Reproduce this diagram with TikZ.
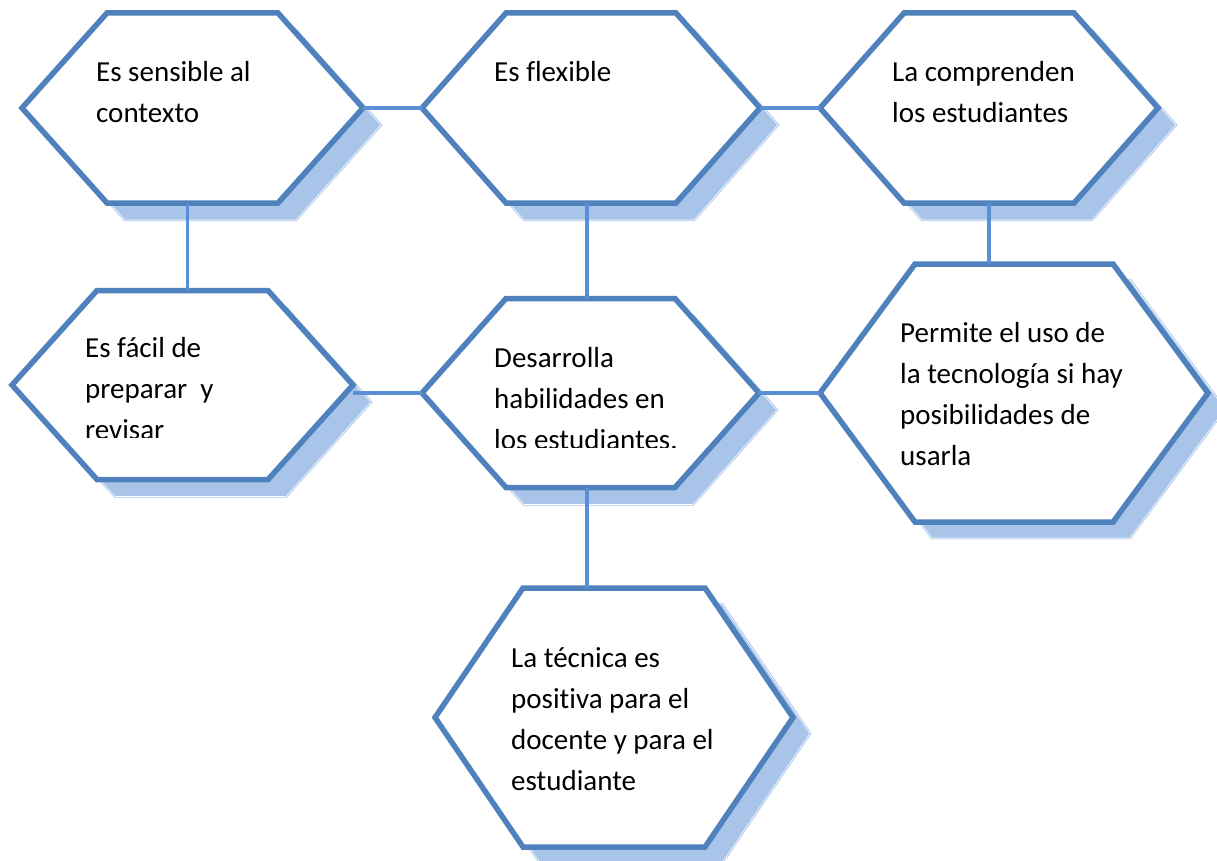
\documentclass[tikz,border=0pt]{standalone}
\usepackage{fontspec}
\setmainfont{Carlito}[Ligatures=NoCommon]
\usepackage{tikz}

\definecolor{hexblue}{HTML}{4F81BD}
\definecolor{linkblue}{HTML}{5B8FD5}
\definecolor{shadeblue}{HTML}{A8C5E9}

\newcommand{\hexfont}{\fontsize{29}{41}\selectfont}
% hexagon outline around a box node: name, inset, shift x, shift y
\newcommand{\hexpath}[4]{([shift={(#3,#4)}]#1.west) -- ([shift={(#3+#2,#4)}]#1.north west) -- ([shift={(#3-#2,#4)}]#1.north east) -- ([shift={(#3,#4)}]#1.east) -- ([shift={(#3-#2,#4)}]#1.south east) -- ([shift={(#3+#2,#4)}]#1.south west) -- cycle}

\begin{document}
\begin{tikzpicture}[x=1pt, y=-1pt]
		\tikzstyle{hexbox}=[rectangle, draw=none, inner sep=0pt, outer sep=0pt]
		\tikzstyle{hexline}=[draw=hexblue, fill=white, line width=5.5pt]
		\tikzstyle{hexshade}=[fill=shadeblue, draw=shadeblue, line width=0.9pt, double=white, double distance=0.6pt]
		\tikzstyle{link}=[draw=linkblue, line width=3.5pt]
		\tikzstyle{hextext}=[anchor=base west, inner sep=0pt, font=\hexfont]
		\useasboundingbox (0,0) rectangle (1217,861);

		% Boxes
		\node[hexbox, minimum width=341pt, minimum height=190pt] (h1) at (192.5,108) {};
		\node[hexbox, minimum width=338pt, minimum height=190pt] (h2) at (591,108) {};
		\node[hexbox, minimum width=338pt, minimum height=190pt] (h3) at (989,108) {};
		\node[hexbox, minimum width=341pt, minimum height=189pt] (h4) at (182.5,385) {};
		\node[hexbox, minimum width=337pt, minimum height=189pt] (h5) at (590.5,393) {};
		\node[hexbox, minimum width=388pt, minimum height=258pt] (h6) at (1014,393) {};
		\node[hexbox, minimum width=358pt, minimum height=259pt] (h7) at (614,717.5) {};

		% Shadows
		\draw[hexshade] \hexpath{h1}{85}{18}{17};
		\draw[hexshade] \hexpath{h2}{84}{18}{17};
		\draw[hexshade] \hexpath{h3}{84}{18}{17};
		\draw[hexshade] \hexpath{h4}{85}{18}{17};
		\draw[hexshade] \hexpath{h5}{84}{18}{17};
		\draw[hexshade] \hexpath{h6}{95}{17}{16};
		\draw[hexshade] \hexpath{h7}{88}{17}{16};

		% Hexagons
		\draw[hexline] \hexpath{h1}{85}{0}{0};
		\draw[hexline] \hexpath{h2}{84}{0}{0};
		\draw[hexline] \hexpath{h3}{84}{0}{0};
		\draw[hexline] \hexpath{h4}{85}{0}{0};
		\draw[hexline] \hexpath{h5}{84}{0}{0};
		\draw[hexline] \hexpath{h6}{95}{0}{0};
		\draw[hexline] \hexpath{h7}{88}{0}{0};

		% Links
		\draw[link] (h1.east) -- (h2.west);
		\draw[link] (h2.east) -- (h3.west);
		\draw[link] (h4.east |- h5.west) -- (h5.west);
		\draw[link] (h5.east) -- (h6.west);
		\draw[link] ([xshift=-5pt]h1.south) -- ([xshift=-5pt]h1.south |- h4.north);
		\draw[link] ([xshift=-4pt]h2.south) -- ([xshift=-4pt]h2.south |- h5.north);
		\draw[link] (h3.south) -- (h3.south |- h6.north);
		\draw[link] ([xshift=-3.5pt]h5.south) -- ([xshift=-3.5pt]h5.south |- h7.north);

		% Texts
		\node[hextext] (t1) at (96,82) {\parbox[t]{8cm}{Es sensible al\\contexto}};
		\node[hextext] (t2) at (494,82) {\parbox[t]{8cm}{Es flexible}};
		\node[hextext] (t3) at (892,82) {\parbox[t]{8cm}{La comprenden\\los estudiantes}};
		\begin{scope}
			\clip (0,250) rectangle (420,437);
			\node[hextext] (t4) at (85,357) {\parbox[t]{8cm}{Es fácil de\\preparar\ \ y\\revisar}};
		\end{scope}
		\begin{scope}
			\clip (420,250) rectangle (800,447);
			\node[hextext] (t5) at (494,367) {\parbox[t]{8cm}{Desarrolla\\habilidades en\\los estudiantes.}};
		\end{scope}
		\node[hextext] (t6) at (900,342) {\parbox[t]{8cm}{Permite el uso de\\la tecnología si hay\\posibilidades de\\usarla}};
		\node[hextext] (t7) at (511,667) {\parbox[t]{8cm}{La técnica es\\positiva para el\\docente y para el\\estudiante}};
	\end{tikzpicture}
\end{document}
